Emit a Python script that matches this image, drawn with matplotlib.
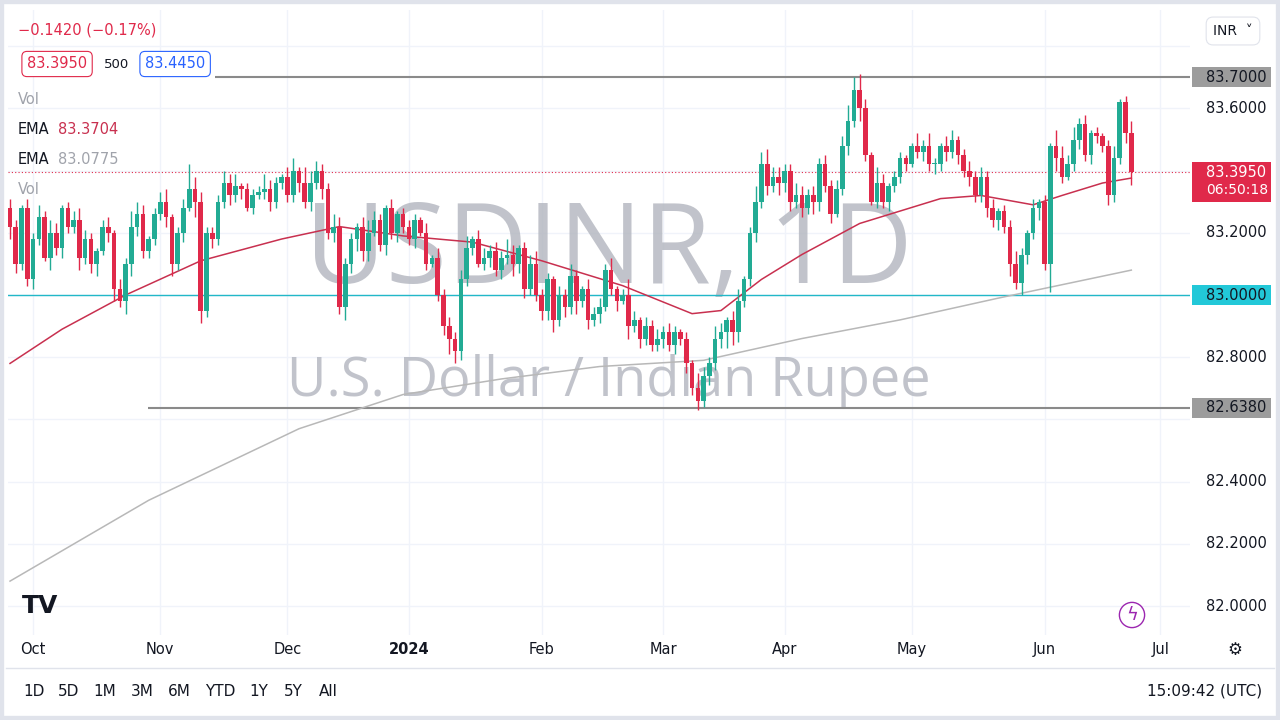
import matplotlib
matplotlib.use("Agg")
import matplotlib.pyplot as plt
from matplotlib.patches import Rectangle
import numpy as np
import pandas as pd

plt.rcParams['font.family'] = ['DejaVu Sans']

start_date = "2023-09-26"
closes = [
 83.22, 83.10, 83.28, 83.05,
 83.18, 83.25, 83.12, 83.20, 83.15, 83.28, 83.22, 83.24, 83.12, 83.18, 83.10, 83.14, 83.22, 83.20, 83.02, 82.98, 83.10, 83.22, 83.26, 83.14, 83.18, 83.26,
 83.30, 83.25, 83.10, 83.20, 83.28, 83.34, 83.30, 82.95, 83.20, 83.18, 83.30, 83.36, 83.32, 83.35, 83.34, 83.28, 83.32, 83.33, 83.34, 83.30, 83.36, 83.38,
 83.32, 83.40, 83.36, 83.30, 83.36, 83.40, 83.34, 83.20, 83.22, 82.96, 83.10, 83.18, 83.22, 83.14, 83.20, 83.24, 83.16, 83.28, 83.20, 83.26, 83.22,
 83.18, 83.24, 83.20, 83.10, 83.12, 83.00, 82.90, 82.86, 82.82, 83.05, 83.15, 83.18, 83.10, 83.12, 83.14, 83.08, 83.12, 83.13, 83.10, 83.15, 83.02, 83.10, 83.00,
 82.95, 83.05, 82.92, 83.00, 82.96, 83.06, 82.98, 83.02, 82.92, 82.94, 82.96, 83.08, 83.02, 82.98, 83.00, 82.90, 82.92, 82.86, 82.90, 82.84, 82.86,
 82.88, 82.84, 82.88, 82.86, 82.78, 82.70, 82.66, 82.74, 82.78, 82.86, 82.88, 82.92, 82.88, 82.98, 83.05, 83.20, 83.30, 83.42, 83.35, 83.38, 83.36,
 83.40, 83.30, 83.32, 83.28, 83.32, 83.30, 83.42, 83.35, 83.26, 83.34, 83.48, 83.56, 83.66, 83.60, 83.45, 83.30, 83.36, 83.30, 83.35, 83.38, 83.44, 83.42,
 83.48, 83.46, 83.48, 83.42, 83.42, 83.48, 83.46, 83.50, 83.45, 83.40, 83.38, 83.32, 83.38, 83.28, 83.24, 83.27, 83.22, 83.10, 83.04, 83.13, 83.20, 83.28, 83.30,
 83.10, 83.48, 83.44, 83.38, 83.42, 83.50, 83.55, 83.45, 83.52, 83.51, 83.48, 83.32, 83.44, 83.62, 83.52, 83.395,
]
first_open = 83.28
# wick extents in cents (upper / lower)
wick_up = ("3213" "2424312343212313254312" "3412384322243412225321" "3415432243221343213122"
           "21313232341332325312342" "213242132324125313232" "321215324313412545332"
           "243232323354531531221" "1424213312323231224213121" "5434231212412410"
           + "2" * 20)
wick_dn = ("4322" "3214232242341342443222" "2342315423223231212322" "2232323232434331232322"
           "31212354322123232433223" "342324232312314232223" "232323232354322323243"
           "3232432312324212232221" "23232323232232324243242" "9421232322322344"
           + "2" * 20)

ema50_idx = [0, 9, 20, 33, 47, 57, 68, 80, 92, 106, 118, 123, 130, 137, 147, 161, 168, 177, 182, 189, 194]
ema50_val = [82.78, 82.89, 83.00, 83.11, 83.18, 83.22, 83.19, 83.17, 83.11, 83.03, 82.94, 82.95, 83.05, 83.13, 83.23, 83.31, 83.32, 83.29, 83.32, 83.36, 83.376]
ema200_idx = [0, 24, 50, 68, 85, 102, 120, 137, 154, 171, 194]
ema200_val = [82.08, 82.34, 82.57, 82.68, 82.73, 82.77, 82.79, 82.86, 82.92, 82.99, 83.08]

price_ticks = [82.0, 82.2, 82.4, 82.6, 82.8, 83.0, 83.2, 83.4, 83.6, 83.8]
month_labels = ["Oct", "Nov", "Dec", "2024", "Feb", "Mar", "Apr", "May", "Jun", "Jul"]
period_buttons = ["1D", "5D", "1M", "3M", "6M", "YTD", "1Y", "5Y", "All"]

GREEN = "#22ab94"
RED = "#e0294a"
n = len(closes)
dates = pd.bdate_range(start_date, periods=n)
opens = [first_open] + closes[:-1]
ups = [int(ch) / 100 for ch in wick_up[:n]]
dns = [int(ch) / 100 for ch in wick_dn[:n]]
highs = [max(o, c) + u for o, c, u in zip(opens, closes, ups)]
lows = [min(o, c) - d for o, c, d in zip(opens, closes, dns)]

fig = plt.figure(figsize=(12.8, 7.2), dpi=100)
fig.patches.append(Rectangle((0, 0), 1, 1, transform=fig.transFigure, facecolor="white",
                             edgecolor="#e0e3eb", linewidth=6, zorder=-10))
ax = fig.add_axes([8 / 1280, 85 / 720, 1182 / 1280, 625 / 720])
px_per_bar = 5.78
ax.set_xlim(-0.35, 1180 / px_per_bar)
ax.set_ylim(83 - 340 / 311, 83 + 285 / 311)
ylo, yhi = ax.get_ylim()
for s in ax.spines.values():
    s.set_visible(False)
ax.set_xticks([]); ax.set_yticks([])

def yfrac(p):
    return (p - ylo) / (yhi - ylo)

# grid
for p in price_ticks:
    ax.axhline(p, color="#f0f3fa", lw=1, zorder=0)
month_starts = []
for m in pd.date_range("2023-10-01", "2024-07-01", freq="MS"):
    idx = np.searchsorted(dates.values, np.datetime64(m))
    if idx >= n:
        idx = (n - 1) + (np.busday_count(dates[-1].date(), m.date()))
    month_starts.append(idx)
for xi in month_starts:
    ax.axvline(xi, color="#f0f3fa", lw=1, zorder=0)

# watermark
ax.text(0.508, 0.61, "USDINR, 1D", transform=ax.transAxes, ha="center", va="center",
        fontsize=80, color="#b2b5be", alpha=0.8, zorder=1, family="Open Sans")
ax.text(0.508, 0.405, "U.S. Dollar / Indian Rupee", transform=ax.transAxes, ha="center", va="center",
        fontsize=39, color="#b2b5be", alpha=0.8, zorder=1, family="Open Sans")

# horizontal lines
x1 = ax.get_xlim()[1]
ax.hlines(83.70, (215 - 10) / px_per_bar, x1, color="#8a8a8a", lw=1.5, zorder=2)
ax.hlines(82.638, (148 - 10) / px_per_bar, x1, color="#8a8a8a", lw=1.5, zorder=2)
ax.axhline(83.0, color="#22b8c8", lw=1, zorder=2)
ax.axhline(83.395, color=RED, lw=0.8, ls=(0, (1, 2)), zorder=2)

# EMAs
ax.plot(ema200_idx, ema200_val, color="#b8b8b8", lw=1.1, zorder=3)
ax.plot(ema50_idx, ema50_val, color="#c8304f", lw=1.1, zorder=3)

# candles
x = np.arange(n)
cols = [GREEN if c >= o else RED for o, c in zip(opens, closes)]
ax.vlines(x, lows, highs, colors=cols, lw=1, zorder=4)
bottoms = [min(o, c) for o, c in zip(opens, closes)]
heights = [max(abs(c - o), 0.004) for o, c in zip(opens, closes)]
ax.bar(x, heights, bottom=bottoms, width=0.8, color=cols, zorder=5)

# price axis labels
LX = 1.0135
BW = 0.0665
for p in price_ticks:
    if p in (83.8, 82.6):
        continue
    ax.text(LX, yfrac(p), f"{p:.4f}", transform=ax.transAxes, ha="left", va="center",
            fontsize=10.5, color="#131722", clip_on=False)

def tag(price, text, bg, fg="white", h=0.032):
    yf = yfrac(price)
    ax.add_patch(Rectangle((1.0017, yf - h / 2), BW, h, transform=ax.transAxes, facecolor=bg,
                           edgecolor="none", clip_on=False, zorder=10))
    ax.text(LX, yf, text, transform=ax.transAxes, ha="left", va="center", fontsize=10.5,
            color=fg, clip_on=False, zorder=11)

tag(83.70, "83.7000", "#9c9c9c", fg="#131722")
tag(83.0, "83.0000", "#22c8d8", fg="#131722")
tag(82.638, "82.6380", "#9c9c9c", fg="#131722")
yf = yfrac(83.395)
ax.add_patch(Rectangle((1.0017, yf - 0.047), BW, 0.064, transform=ax.transAxes, facecolor=RED,
                       edgecolor="none", clip_on=False, zorder=10))
ax.text(LX, yf, "83.3950", transform=ax.transAxes, ha="left", va="center", fontsize=10.5,
        color="white", clip_on=False, zorder=11)
ax.text(LX, yf - 0.029, "06:50:18", transform=ax.transAxes, ha="left", va="center", fontsize=10,
        color="white", clip_on=False, zorder=11)

# month labels
for xi, lab in zip(month_starts, month_labels):
    ax.text(xi, -0.023, lab, transform=ax.get_xaxis_transform(), ha="center", va="center",
            fontsize=10.5, color="#131722", fontweight="bold" if lab == "2024" else "normal", clip_on=False)

# top-left legend
fig.text(18 / 1280, 1 - 30 / 720, "\u22120.1420 (\u22120.17%)", fontsize=10.5, color=RED, va="center")
fig.text(27 / 1280, 1 - 64 / 720, "83.3950", fontsize=10.5, color=RED, va="center",
         bbox=dict(boxstyle="round,pad=0.35", fc="white", ec=RED, lw=0.8))
fig.text(104 / 1280, 1 - 64 / 720, "500", fontsize=9.5, color="#131722", va="center")
fig.text(145 / 1280, 1 - 64 / 720, "83.4450", fontsize=10.5, color="#2962ff", va="center",
         bbox=dict(boxstyle="round,pad=0.35", fc="white", ec="#2962ff", lw=0.8))
fig.text(18 / 1280, 1 - 99 / 720, "Vol", fontsize=10.5, color="#a0a3ab", va="center")
fig.text(18 / 1280, 1 - 130 / 720, "EMA", fontsize=10.5, color="#131722", va="center")
fig.text(58 / 1280, 1 - 130 / 720, "83.3704", fontsize=10.5, color="#c8304f", va="center")
fig.text(18 / 1280, 1 - 160 / 720, "EMA", fontsize=10.5, color="#131722", va="center")
fig.text(58 / 1280, 1 - 160 / 720, "83.0775", fontsize=10.5, color="#a0a3ab", va="center")
fig.text(18 / 1280, 1 - 189 / 720, "Vol", fontsize=10.5, color="#a0a3ab", va="center")
fig.text(1233 / 1280, 1 - 31 / 720, "INR  \u02c5", fontsize=10, color="#131722", va="center", ha="center",
         bbox=dict(boxstyle="round,pad=0.5", fc="white", ec="#e0e3eb", lw=0.8))
fig.text(40 / 1280, 1 - 606 / 720, "TV", fontsize=18, color="#131722", va="center", ha="center", fontweight="bold")
fig.text(1132 / 1280, 1 - 615 / 720, "\u03df", fontsize=13, color="#9c27b0", va="center", ha="center",
         bbox=dict(boxstyle="circle,pad=0.2", fc="white", ec="#9c27b0", lw=1))

# bottom toolbar
fig.add_artist(plt.Line2D([0.005, 0.995], [1 - 668 / 720] * 2, transform=fig.transFigure, color="#e0e3eb", lw=1))
bx = [34, 69, 105, 142, 179, 220, 259, 293, 328]
for b, lab in zip(bx, period_buttons):
    fig.text(b / 1280, 1 - 691 / 720, lab, fontsize=11, color="#131722", va="center", ha="center")
fig.text(1262 / 1280, 1 - 691 / 720, "15:09:42 (UTC)", fontsize=11, color="#131722", va="center", ha="right")
fig.text(1235 / 1280, 1 - 650 / 720, "\u2699", fontsize=12, color="#131722", va="center", ha="center")

fig.savefig("out.png", dpi=100)
